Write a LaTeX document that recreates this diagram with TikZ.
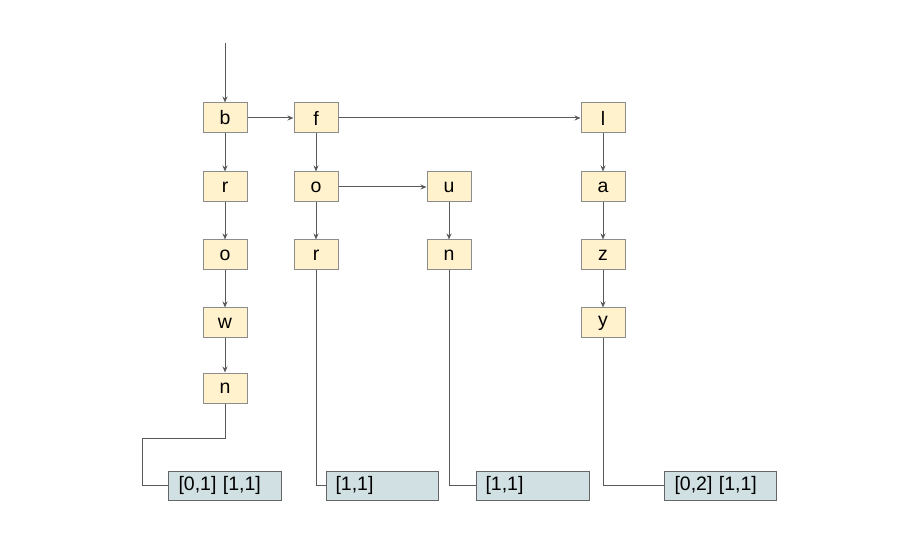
\documentclass[tikz,border=0pt]{standalone}
\usepackage{fontspec}
\setmainfont{Liberation Sans}
\usetikzlibrary{arrows.meta}
\definecolor{nodefill}{HTML}{FFF2CC}
\definecolor{nodeedge}{HTML}{8C8C8C}
\definecolor{leaffill}{HTML}{D0E0E3}
\definecolor{leafedge}{HTML}{666666}
\definecolor{linec}{HTML}{595959}
\begin{document}
\begin{tikzpicture}[x=1pt,y=-1pt,
  letter/.style={draw=nodeedge,fill=nodefill,line width=1pt,minimum width=44pt,minimum height=30pt,inner sep=0pt,font=\fontsize{19.5}{22}\selectfont},
  leaf/.style={draw=leafedge,fill=leaffill,line width=1pt,minimum height=29pt,inner sep=0pt,text width=#1,align=left,font=\fontsize{19.5}{22}\selectfont},
  link/.style={draw=linec,line width=1pt,-{Stealth[length=6pt,width=5pt]}},
  tail/.style={draw=linec,line width=1pt}]
\useasboundingbox (0,0) rectangle (913,545);
% column 1
\node[letter] (b) at (225,118) {b};
\node[letter] (r1) at (225,187) {r};
\node[letter] (o1) at (225,255) {o};
\node[letter] (w) at (225,323) {w};
\node[letter] (n1) at (225,388) {n};
% column 2
\node[letter] (f) at (316,118) {f};
\node[letter] (o2) at (316,187) {o};
\node[letter] (r2) at (316,255) {r};
% column 3
\node[letter] (u) at (449,187) {u};
\node[letter] (n2) at (449,255) {n};
% column 4
\node[letter] (l) at (603,118) {l};
\node[letter] (a) at (603,187) {a};
\node[letter] (z) at (603,255) {z};
\node[letter] (y) at (603,323) {y};
% leaves
\node[leaf=113pt,anchor=west] (L1) at (168,485.5) {\hspace*{10pt}[0,1] [1,1]};
\node[leaf=112pt,anchor=west] (L2) at (326,485.5) {\hspace*{9pt}[1,1]};
\node[leaf=113pt,anchor=west] (L3) at (476,485.5) {\hspace*{9pt}[1,1]};
\node[leaf=112pt,anchor=west] (L4) at (664,485.5) {\hspace*{10pt}[0,2] [1,1]};
\coordinate (start) at (225,43);
\coordinate (k1) at (225,438);
\coordinate (k2) at (142,438);
\coordinate (k3) at (142,485.5);
% arrows
\draw[link] (start) -- (b);
\draw[link] (b) -- (r1);
\draw[link] (r1) -- (o1);
\draw[link] (o1) -- (w);
\draw[link] (w) -- (n1);
\draw[link] (b) -- (f);
\draw[link] (f) -- (l);
\draw[link] (f) -- (o2);
\draw[link] (o2) -- (r2);
\draw[link] (o2) -- (u);
\draw[link] (u) -- (n2);
\draw[link] (l) -- (a);
\draw[link] (a) -- (z);
\draw[link] (z) -- (y);
% tails
\draw[tail] (n1.south) -- (k1) -- (k2) -- (k3) -- (L1.west);
\draw[tail] (r2.south) |- (L2.west);
\draw[tail] (n2.south) |- (L3.west);
\draw[tail] (y.south) |- (L4.west);
\end{tikzpicture}
\end{document}
